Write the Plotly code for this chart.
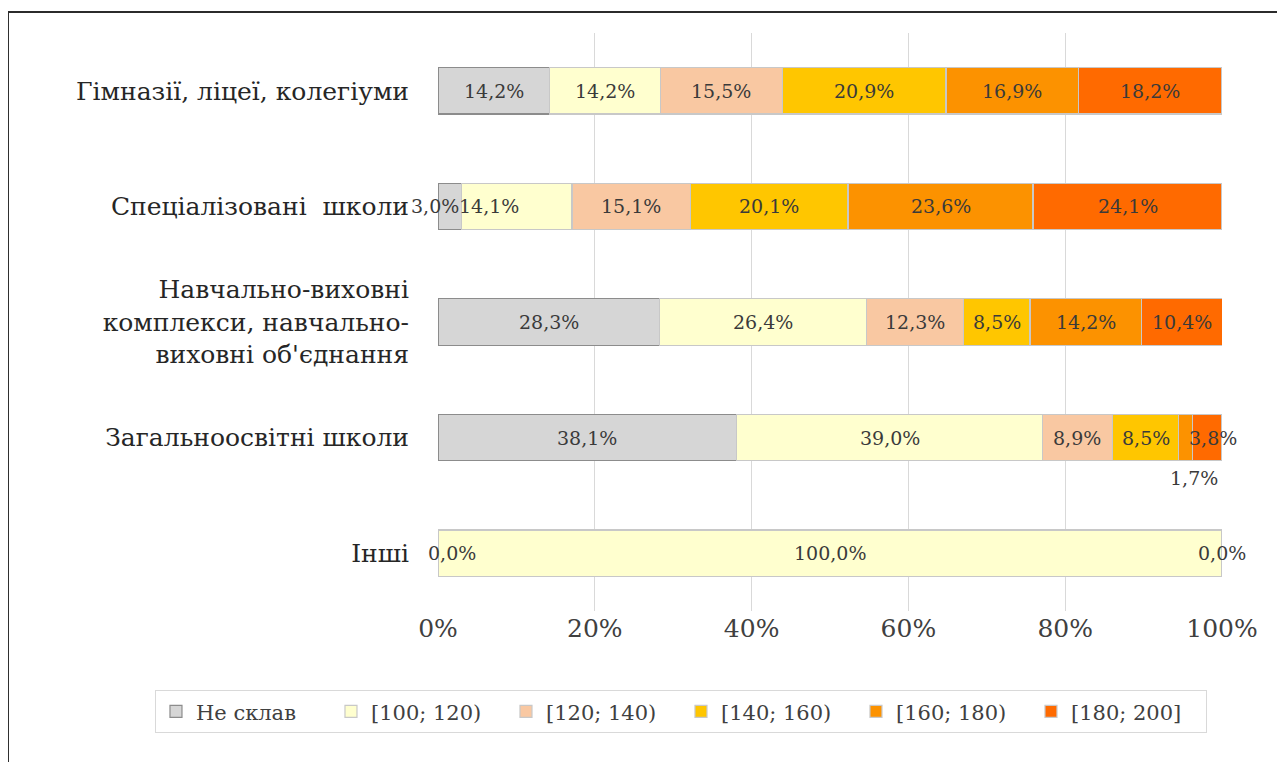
import plotly.graph_objects as go

# categories, top to bottom
categories = [
    "Гімназії, ліцеї, колегіуми",
    "Спеціалізовані  школи",
    "Навчально-виховні<br>комплекси, навчально-<br>виховні об'єднання",
    "Загальноосвітні школи",
    "Інші",
]

series_names = ["Не склав", "[100; 120)", "[120; 140)", "[140; 160)", "[160; 180)", "[180; 200]"]

# shares, %, per category (same order as categories)
ne_sklav = [14.2, 3.0, 28.3, 38.1, 0.0]
s100_120 = [14.2, 14.1, 26.4, 39.0, 100.0]
s120_140 = [15.5, 15.1, 12.3, 8.9, 0.0]
s140_160 = [20.9, 20.1, 8.5, 8.5, 0.0]
s160_180 = [16.9, 23.6, 14.2, 1.7, 0.0]
s180_200 = [18.2, 24.1, 10.4, 3.8, 0.0]

x_ticks = [0, 20, 40, 60, 80, 100]
x_ticklabels = ["0%", "20%", "40%", "60%", "80%", "100%"]

all_series = [ne_sklav, s100_120, s120_140, s140_160, s160_180, s180_200]
colors = ["#d6d6d6", "#ffffcf", "#f9c8a2", "#ffc600", "#fc9200", "#ff6a00"]
line_colors = ["#8c8c8c", "#c8c8c8", "#c8c8c8", "#c8c8c8", "#c8c8c8", "#c8c8c8"]

# Liberation Serif does not come through in the renderer, DejaVu Serif does
FONT = "DejaVu Serif"

fig = go.Figure()
for name, vals, col, lc in zip(series_names, all_series, colors, line_colors):
    fig.add_trace(go.Bar(
        y=categories, x=vals, name=name, orientation="h",
        marker=dict(color=col, line=dict(color=lc, width=1.2)),
        hoverinfo="skip",
    ))

# data labels, centred in each segment (a few nudged like in the source)
nudge = {(1, 0): (-15, 0), (1, 1): (-28, 0), (3, 4): (8, -40), (3, 5): (6, 0), (4, 0): (14, 0)}
seen = set()
for ci, cat in enumerate(categories):
    left = 0.0
    for si, vals in enumerate(all_series):
        v = vals[ci]
        xc = left + v / 2
        left += v
        key = (ci, round(xc, 3))
        if key in seen:
            continue
        seen.add(key)
        dx, dy = nudge.get((ci, si), (0, 0))
        fig.add_annotation(
            x=xc, y=cat, xref="x", yref="y",
            text=("%.1f%%" % v).replace(".", ","),
            showarrow=False, xshift=dx, yshift=dy,
            font=dict(family=FONT, size=19, color="#3a3a3a"),
        )

fig.update_layout(
    width=1277, height=754,
    margin=dict(l=430, r=63, t=25, b=151),
    paper_bgcolor="white", plot_bgcolor="white",
    barmode="stack", bargap=0.6,
    font=dict(family=FONT, color="#404040"),
    legend=dict(
        orientation="h", x=-0.361, y=-0.137, xanchor="left", yanchor="top",
        bordercolor="#d9d9d9", borderwidth=1,
        font=dict(family=FONT, size=21, color="#404040"),
        entrywidth=130, traceorder="normal",
    ),
    shapes=[dict(
        type="rect", xref="paper", yref="paper",
        x0=-0.5485, x1=1.1, y0=-0.3, y1=1.0363,
        line=dict(color="#2b2b2b", width=2), fillcolor="rgba(0,0,0,0)",
    )],
)
fig.update_xaxes(
    range=[0, 100], tickvals=x_ticks, ticktext=x_ticklabels,
    showgrid=True, gridcolor="#d9d9d9", gridwidth=1, zeroline=False,
    tickfont=dict(family=FONT, size=25, color="#404040"), ticklen=0,
    showline=False,
)
fig.update_yaxes(
    autorange="reversed", showgrid=False, showline=False,
    tickfont=dict(family=FONT, size=25, color="#262626"), ticks="",
    ticklabelstandoff=28,
)

fig.write_html("out.html")
